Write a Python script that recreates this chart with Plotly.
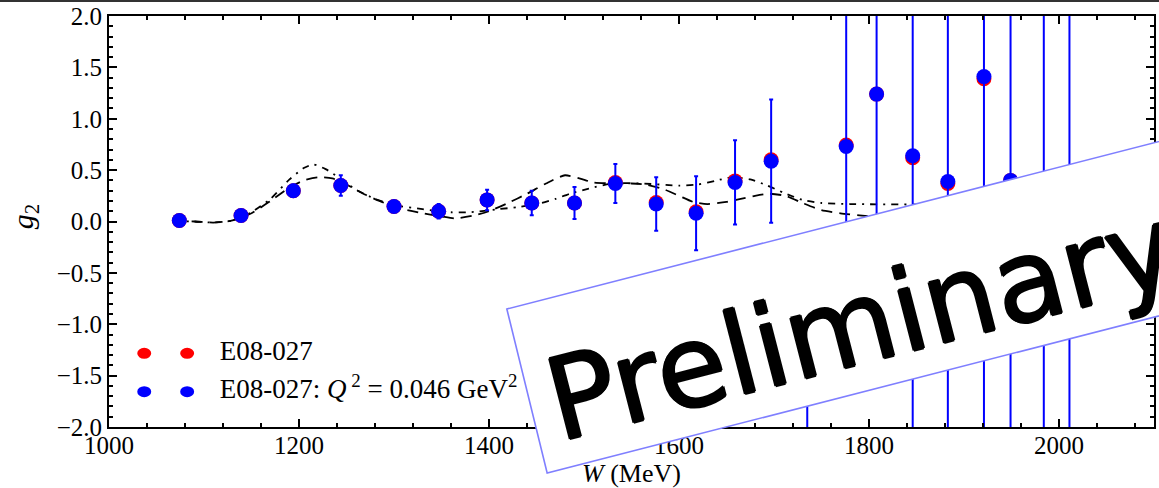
import math
import plotly.graph_objects as go

# ---------------- data ----------------
W_pts = [1074, 1139, 1194, 1244, 1300, 1347, 1398, 1445, 1490, 1533, 1576, 1618,
         1659, 1697, 1735, 1776, 1808, 1846, 1883, 1921, 1949, 1984, 2011]
g2_blue = [0.01, 0.058, 0.30, 0.35, 0.146, 0.10, 0.21, 0.18, 0.18, 0.37, 0.17, 0.08,
           0.38, 0.587, -1.2, 0.73, 1.24, 0.64, 0.39, 1.41, 0.40, -0.3, -0.2]
err_blue = [0.01, 0.02, 0.06, 0.10, 0.03, 0.07, 0.10, 0.12, 0.155, 0.19, 0.26, 0.36,
            0.41, 0.60, 1.0, 2.0, 2.5, 3.0, 3.0, 4.0, 4.0, 4.5, 4.5]
g2_red = [0.01, 0.058, 0.30, 0.35, 0.146, 0.10, 0.21, 0.18, 0.18, 0.38, 0.185, 0.095,
          0.395, 0.60, -1.2, 0.745, 1.24, 0.62, 0.37, 1.39, 0.40, -0.3, -0.2]

# model curves
A_w = [1068, 1090, 1110, 1130, 1150, 1170, 1190, 1205, 1215, 1228, 1240, 1260, 1280, 1300,
       1330, 1360, 1380, 1410, 1430, 1455, 1470, 1485, 1505, 1530, 1560, 1600, 1620, 1640,
       1655, 1675, 1693, 1710, 1730, 1750, 1780, 1850, 1900]
A_v = [0.0, 0.0, -0.01, 0.01, 0.09, 0.22, 0.41, 0.52, 0.555, 0.51, 0.44, 0.31, 0.22, 0.16,
       0.12, 0.09, 0.09, 0.12, 0.14, 0.18, 0.22, 0.27, 0.32, 0.37, 0.37, 0.35, 0.36, 0.40,
       0.43, 0.41, 0.35, 0.28, 0.21, 0.18, 0.17, 0.165, 0.16]
B_w = [1068, 1090, 1110, 1130, 1150, 1170, 1190, 1205, 1220, 1235, 1250, 1270, 1290, 1310,
       1330, 1350, 1365, 1385, 1400, 1420, 1440, 1460, 1480, 1495, 1510, 1530, 1550, 1565,
       1585, 1600, 1615, 1630, 1650, 1665, 1680, 1695, 1712, 1730, 1750, 1770, 1790, 1820]
B_v = [0.0, 0.0, -0.01, 0.01, 0.08, 0.20, 0.33, 0.40, 0.43, 0.42, 0.36, 0.26, 0.18, 0.12,
       0.08, 0.05, 0.03, 0.06, 0.10, 0.18, 0.27, 0.37, 0.45, 0.42, 0.38, 0.37, 0.37, 0.36,
       0.31, 0.25, 0.19, 0.17, 0.19, 0.22, 0.25, 0.27, 0.25, 0.18, 0.11, 0.08, 0.06, 0.03]

legend_labels = ["E08-027", "E08-027: <i>Q</i><sup> 2</sup> = 0.046 GeV<sup>2</sup>"]
x_ticks = [1000, 1200, 1400, 1600, 1800, 2000]
y_ticks = [-2.0, -1.5, -1.0, -0.5, 0.0, 0.5, 1.0, 1.5, 2.0]

# ---------------- geometry ----------------
FW, FH = 1159, 488
ML, MR, MT, MB = 109, 3, 16, 61
PW, PH = FW - ML - MR, FH - MT - MB
XR = [1000, 2100]
YR = [-2.0, 2.0]

def px(x):
    return (x - ML) / PW

def py(y):
    return (FH - MB - y) / PH

def data_x(p):
    return XR[0] + (p - ML) / PW * (XR[1] - XR[0])

def data_y(p):
    return YR[1] - (p - MT) / PH * (YR[1] - YR[0])

SERIF = "Liberation Serif"
BLUE = "#0000ff"
RED = "#ff0000"
BOXC = "#7f7fff"

fig = go.Figure()

fig.add_trace(go.Scatter(x=A_w, y=A_v, mode="lines", line=dict(color="black", width=1.8,
                         dash="7px,6px,2px,6px", shape="spline", smoothing=0.6),
                         hoverinfo="skip", showlegend=False))
fig.add_trace(go.Scatter(x=B_w, y=B_v, mode="lines", line=dict(color="black", width=1.8,
                         dash="11px,7px", shape="spline", smoothing=0.6),
                         hoverinfo="skip", showlegend=False))

fig.add_trace(go.Scatter(x=W_pts, y=g2_red, mode="markers",
                         marker=dict(color=RED, size=15, line=dict(width=0)),
                         showlegend=False))
fig.add_trace(go.Scatter(x=W_pts, y=g2_blue, mode="markers",
                         marker=dict(color=BLUE, size=15, line=dict(width=0)),
                         error_y=dict(type="data", array=err_blue, color=BLUE, thickness=2, width=2),
                         showlegend=False))

# legend text (drawn in the plot layer so the "Preliminary" box covers it)
leg_rows_px = [353.3, 391.7]
fig.add_trace(go.Scatter(x=[data_x(220)] * 2, y=[data_y(r) for r in leg_rows_px],
                         mode="text", text=legend_labels, textposition="middle right",
                         textfont=dict(family=SERIF, size=27, color="black"),
                         hoverinfo="skip", showlegend=False, cliponaxis=False))

shapes = []
# legend dots
for r, col in zip(leg_rows_px, [RED, BLUE]):
    for cx in (144.3, 187.3):
        shapes.append(dict(type="circle", xref="paper", yref="paper",
                           x0=px(cx - 7), x1=px(cx + 7), y0=py(r + 5.5), y1=py(r - 5.5),
                           fillcolor=col, line=dict(width=0), layer="above"))

# Preliminary box
slope = 0.2564
ux, uy = 1 / math.sqrt(1 + slope ** 2), -slope / math.sqrt(1 + slope ** 2)
TL = (507.6, 309.0)
BL = (548.0, 473.0)
Lb = 800
TR = (TL[0] + Lb * ux, TL[1] + Lb * uy)
BR = (BL[0] + Lb * ux, BL[1] + Lb * uy)
path = "M {:.5f},{:.5f} L {:.5f},{:.5f} L {:.5f},{:.5f} L {:.5f},{:.5f} Z".format(
    px(TL[0]), py(TL[1]), px(TR[0]), py(TR[1]), px(BR[0]), py(BR[1]), px(BL[0]), py(BL[1]))
shapes.append(dict(type="path", xref="paper", yref="paper", path=path,
                   fillcolor="white", line=dict(color=BOXC, width=1.6), layer="above"))

# thin dark rule at very top of image
shapes.append(dict(type="line", xref="paper", yref="paper", x0=-0.2, x1=1.2,
                   y0=py(1), y1=py(1), line=dict(color="#333333", width=2), layer="above"))

annotations = [
    dict(text="Preliminary", xref="paper", yref="paper", x=px(862), y=py(323),
         showarrow=False, textangle=-14.4, xanchor="center", yanchor="middle",
         font=dict(family="DejaVu Sans", size=114, color="black",
                   shadow="1.2px 0px 0px black, -1.2px 0px 0px black, 0px 1.2px 0px black, 0px -1.2px 0px black")),
    dict(text="<i>g</i><sub>2</sub>", xref="paper", yref="paper", x=px(25), y=py(216),
         showarrow=False, textangle=-90, xanchor="center", yanchor="middle",
         font=dict(family=SERIF, size=30, color="black")),
    dict(text="<i>W</i> (MeV)", xref="paper", yref="paper", x=px(632), y=py(473),
         showarrow=False, xanchor="center", yanchor="middle",
         font=dict(family=SERIF, size=26, color="black")),
]

axis_common = dict(showgrid=False, zeroline=False, showline=True, linecolor="black",
                   linewidth=2, mirror="allticks", ticks="inside", ticklen=8, tickwidth=1.5,
                   tickcolor="black", tickfont=dict(family=SERIF, size=25, color="black"))

fig.update_layout(
    width=FW, height=FH, margin=dict(l=ML, r=MR, t=MT, b=MB, pad=0),
    paper_bgcolor="white", plot_bgcolor="white", showlegend=False,
    xaxis=dict(range=XR, tickvals=x_ticks, ticktext=[str(v) for v in x_ticks],
               ticklabelstandoff=-5,
               minor=dict(ticks="inside", ticklen=4, dtick=40, tick0=1000, tickcolor="black"),
               **axis_common),
    yaxis=dict(range=YR, tickvals=y_ticks, tickformat=".1f",
               minor=dict(ticks="inside", ticklen=4, dtick=0.1, tick0=0, tickcolor="black"),
               **axis_common),
    shapes=shapes, annotations=annotations,
)

fig.write_html("out.html")
